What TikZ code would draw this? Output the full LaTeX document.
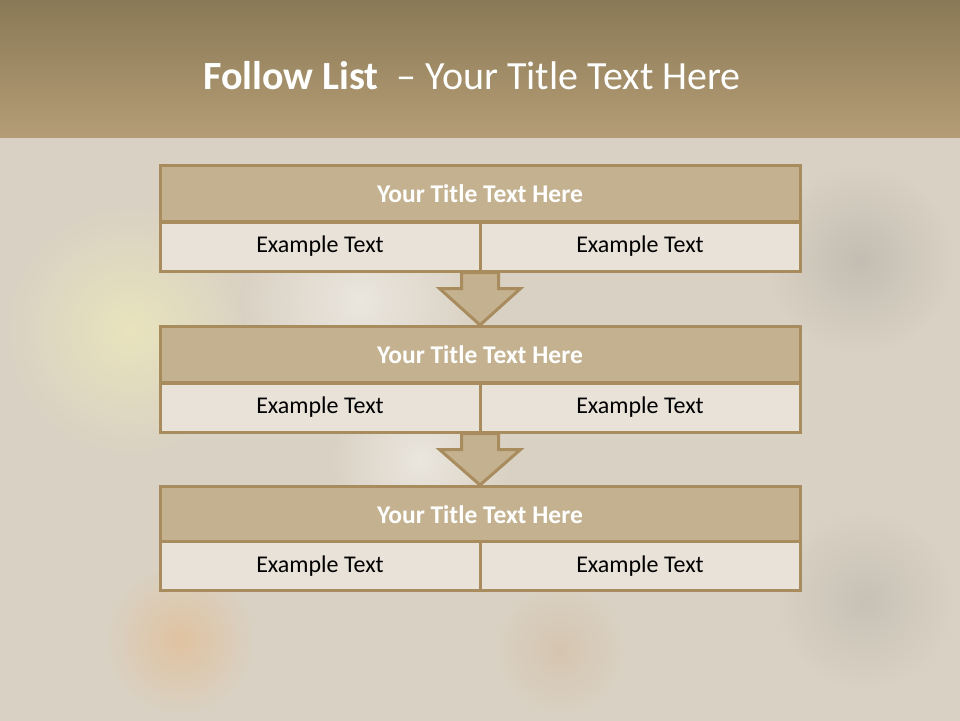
\documentclass[tikz,border=0pt]{standalone}
\usepackage{fontspec}
\setmainfont{Carlito}
\definecolor{bandtop}{HTML}{8A7956}
\definecolor{bandbot}{HTML}{B49D76}
\definecolor{bgpaint}{HTML}{D9D1C3}
\definecolor{titlefill}{HTML}{C4B190}
\definecolor{cellfill}{HTML}{E8E2D8}
\definecolor{edge}{HTML}{A88C5E}
\tikzset{
  titlebox/.style={draw=edge, line width=3pt, fill=titlefill, minimum width=640pt, minimum height=56pt, inner sep=0pt, text=white, font=\fontsize{25.5}{30}\selectfont\bfseries},
  cellbox/.style={draw=edge, line width=3pt, fill=cellfill, minimum width=320pt, minimum height=49pt, inner sep=0pt, text=black, font=\fontsize{24}{28}\selectfont},
  downarrow/.style={draw=edge, line width=3pt, fill=titlefill, line join=miter}
}
\begin{document}
\begin{tikzpicture}[x=1pt,y=-1pt]
\useasboundingbox (0,0) rectangle (960,720);
% background painting approximation (soft blobs)
\fill[bgpaint] (-5,-5) rectangle (965,725);
\shade[inner color=white!70!yellow!40!bgpaint, outer color=bgpaint] (130,330) circle (125);
\shade[inner color=white!45!bgpaint, outer color=bgpaint] (360,300) circle (120);
\shade[inner color=white!45!bgpaint, outer color=bgpaint] (420,460) circle (90);
\shade[inner color=gray!25!bgpaint, outer color=bgpaint] (860,260) circle (95);
\shade[inner color=gray!20!bgpaint, outer color=bgpaint] (865,600) circle (90);
\shade[inner color=orange!18!bgpaint, outer color=bgpaint] (180,640) circle (75);
\shade[inner color=brown!15!bgpaint, outer color=bgpaint] (560,650) circle (65);
% top band
\shade[top color=bandtop, bottom color=bandbot] (0,0) rectangle (960,137);
\node[text=white, font=\fontsize{40}{46}\selectfont, anchor=center] (head) at (472,76) {\textbf{Follow List}\ \ – Your Title Text Here};
% group 1
\node[titlebox] (t1) at (480,193.5) {Your Title Text Here};
\node[cellbox] (a1) at (320,246.5) {Example Text};
\node[cellbox] (b1) at (640,246.5) {Example Text};
% group 2
\node[titlebox] (t2) at (480,354.5) {Your Title Text Here};
\node[cellbox] (a2) at (320,407.5) {Example Text};
\node[cellbox] (b2) at (640,407.5) {Example Text};
% group 3
\node[titlebox] (t3) at (480,514.5) {Your Title Text Here};
\node[cellbox] (a3) at (320,566) {Example Text};
\node[cellbox] (b3) at (640,566) {Example Text};
% arrows
\draw[downarrow] ([xshift=-20pt]a1.south east) -- ([xshift=-20pt,yshift=-16pt]a1.south east) -- ([xshift=-42pt,yshift=-16pt]a1.south east) -- (t2.north) -- ([xshift=42pt,yshift=-16pt]b1.south west) -- ([xshift=20pt,yshift=-16pt]b1.south west) -- ([xshift=20pt]b1.south west) -- cycle;
\draw[downarrow] ([xshift=-20pt]a2.south east) -- ([xshift=-20pt,yshift=-16pt]a2.south east) -- ([xshift=-42pt,yshift=-16pt]a2.south east) -- (t3.north) -- ([xshift=42pt,yshift=-16pt]b2.south west) -- ([xshift=20pt,yshift=-16pt]b2.south west) -- ([xshift=20pt]b2.south west) -- cycle;
\end{tikzpicture}
\end{document}
